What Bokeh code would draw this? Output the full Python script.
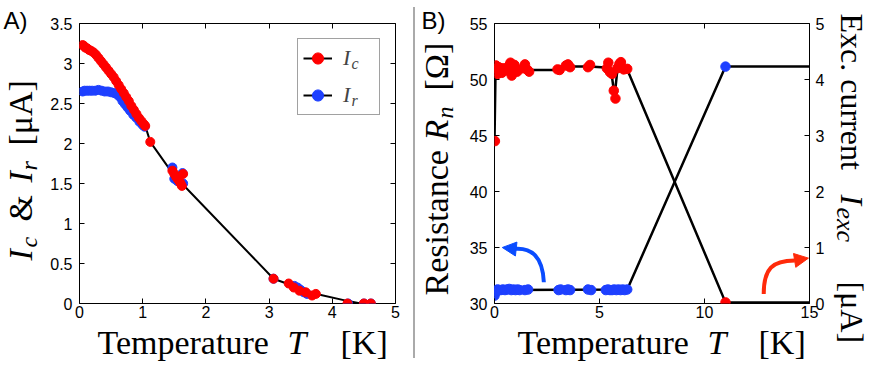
from math import pi
from bokeh.plotting import figure
from bokeh.models import (Range1d, LinearAxis, Label, Legend, LegendItem,
                          FixedTicker, Arrow, NormalHead, Div)
from bokeh.layouts import row, column
from bokeh.embed import file_html
from bokeh.resources import INLINE

RED = "#ff0000"
BLUE = "#1e40ff"
ARROW_BLUE = "#0a4cff"
ARROW_RED = "#ff2a0a"
SERIF = "Liberation Serif"
SANS = "Liberation Sans"

# ---------------- Panel A data ----------------
ic_T = [0.05, 0.07, 0.09, 0.12, 0.15, 0.18, 0.22, 0.26, 0.30, 0.34, 0.38, 0.42, 0.46, 0.50,
        0.54, 0.58, 0.62, 0.66, 0.70, 0.74, 0.78, 0.82, 0.86, 0.90, 0.94, 0.98, 1.02, 1.04,
        1.12, 1.47, 1.50, 1.53, 1.56, 1.58, 1.60, 1.62, 1.64,
        3.07, 3.31, 3.39, 3.48, 3.58, 3.68, 3.74, 4.24, 4.50, 4.61]
ic_I = [3.23, 3.22, 3.20, 3.19, 3.17, 3.16, 3.14, 3.11, 3.07, 3.03, 2.99, 2.95, 2.91, 2.87,
        2.83, 2.78, 2.73, 2.68, 2.63, 2.58, 2.53, 2.47, 2.42, 2.37, 2.32, 2.28, 2.24, 2.22,
        2.02, 1.66, 1.62, 1.58, 1.55, 1.53, 1.50, 1.47, 1.62,
        0.31, 0.25, 0.20, 0.16, 0.14, 0.10, 0.12, 0.0, 0.0, 0.0]
ir_T = [0.05, 0.08, 0.12, 0.16, 0.20, 0.25, 0.30, 0.35, 0.40, 0.45, 0.50, 0.55, 0.60, 0.64,
        0.68, 0.72, 0.76, 0.80, 0.85, 0.90, 0.95, 1.00, 1.03,
        1.47, 1.50, 1.55, 1.63, 1.64, 3.07, 3.40, 3.45, 3.50, 3.55, 3.60, 4.25, 4.50, 4.61]
ir_I = [2.65, 2.66, 2.66, 2.66, 2.66, 2.66, 2.67, 2.66, 2.65, 2.65, 2.64, 2.63, 2.61, 2.58,
        2.53, 2.49, 2.45, 2.41, 2.36, 2.32, 2.27, 2.23, 2.21,
        1.70, 1.56, 1.53, 1.63, 1.50, 0.31, 0.22, 0.20, 0.17, 0.14, 0.12, 0.0, 0.0, 0.0]
fitA_T = [0.05, 0.30, 0.50, 0.70, 0.86, 1.04, 1.12, 1.47, 1.62, 3.07, 3.31, 3.50, 3.75, 4.25, 4.45, 4.61]
fitA_I = [3.22, 3.07, 2.87, 2.63, 2.42, 2.22, 2.02, 1.63, 1.50, 0.31, 0.24, 0.17, 0.12, 0.03, 0.0, 0.0]

A_xticks = [0, 1, 2, 3, 4, 5]
A_xlabels = ["0", "1", "2", "3", "4", "5"]
A_yticks = [0, 0.5, 1, 1.5, 2, 2.5, 3, 3.5]
A_ylabels = ["0", "0.5", "1", "1.5", "2", "2.5", "3", "3.5"]

# ---------------- Panel B data ----------------
res_T = [0.0, 0.02, 0.05, 0.1, 0.15, 0.2, 0.3, 0.4, 0.5, 0.6, 0.7, 0.8, 0.9, 1.0, 1.1, 1.2, 1.45, 1.6,
         3.05, 3.15, 3.4, 3.5, 3.6, 4.45, 4.6,
         5.3, 5.4, 5.5, 5.6, 5.7, 5.8, 5.9, 6.0, 6.1, 6.2, 6.32, 11.0]
res_R = [30.7, 30.9, 31.1, 31.2, 31.25, 31.2, 31.2, 31.25, 31.2, 31.25, 31.3, 31.2, 31.25, 31.2, 31.25, 31.2, 31.2, 31.25,
         31.2, 31.25, 31.2, 31.25, 31.2, 31.25, 31.2,
         31.2, 31.25, 31.2, 31.2, 31.25, 31.2, 31.25, 31.2, 31.25, 31.2, 31.25, 51.15]
res_line_T = [0.0, 0.05, 6.32, 11.0, 15.0]
res_line_R = [30.7, 31.2, 31.25, 51.15, 51.15]

exc_T = [0.02, 0.04, 0.07, 0.1, 0.15, 0.2, 0.27, 0.35, 0.42,
         0.62, 0.7, 0.76, 0.82, 0.88, 0.95, 1.02, 1.08,
         1.35, 1.45, 1.55, 1.65, 3.0, 3.1, 3.4, 3.5, 3.6, 4.45, 4.55,
         5.35, 5.42, 5.5, 5.6, 5.68, 5.76, 5.85, 5.95, 6.02, 6.15, 6.32, 11.0]
exc_I = [2.90, 4.15, 4.25, 4.20, 4.10, 4.22, 4.15, 4.12, 4.20,
         4.16, 4.25, 4.30, 4.07, 4.20, 4.26, 4.18, 4.14,
         4.20, 4.27, 4.18, 4.14, 4.18, 4.17, 4.25, 4.27, 4.22, 4.22, 4.26,
         4.20, 4.30, 4.13, 4.10, 3.80, 3.66, 4.20, 4.28, 4.31, 4.18, 4.19, 0.02]
exc_line_T = [0.0, 0.05, 1.6, 3.0, 3.5, 4.5, 5.1, 5.55, 5.72, 5.85, 6.32, 11.0, 15.0]
exc_line_I = [2.90, 4.17, 4.17, 4.17, 4.23, 4.23, 4.22, 4.17, 3.70, 4.17, 4.18, 0.02, 0.02]

B_xticks = [0, 5, 10, 15]
B_xlabels = ["0", "5", "10", "15"]
B_yticks = [30, 35, 40, 45, 50, 55]
B_ylabels = ["30", "35", "40", "45", "50", "55"]
B_y2ticks = [0, 1, 2, 3, 4, 5]
B_y2labels = ["0", "1", "2", "3", "4", "5"]

# decorative arrows (data units)
blue_arrow = dict(x0=2.35, y0=31.9, cx0=2.29, cy0=34.3, cx1=1.71, cy1=35.0, x1=0.95, y1=34.88)
blue_head = (0.95, 34.88, 0.37, 35.0)
red_arrow = dict(x0=12.82, y0=0.17, cx0=12.82, cy0=0.63, cx1=13.24, cy1=0.77, x1=14.3, y1=0.77)
red_head = (14.3, 0.77, 14.95, 0.81)

PAGE_H = 366
TOP_H = 323        # height of the plotting canvases
BOT_H = PAGE_H - TOP_H
BASE_SHIFT = 0.34  # Bokeh draws "alphabetic" text this many em below the anchor


def style_axis(ax, ticks, labels, show=True):
    ax.ticker = FixedTicker(ticks=ticks)
    ax.major_label_overrides = {t: l for t, l in zip(ticks, labels)}
    ax.major_tick_in = 5
    ax.major_tick_out = 0
    ax.minor_tick_line_color = None
    ax.axis_line_color = None
    ax.major_tick_line_color = "black"
    ax.major_tick_line_width = 1
    ax.axis_label = None
    if show:
        ax.major_label_text_font = SANS
        ax.major_label_text_font_size = "16px"
        ax.major_label_text_color = "black"
    else:
        ax.major_label_text_font_size = "1px"
        ax.major_label_text_color = None
        ax.major_label_standoff = 0


def text_fig(w, h):
    f = figure(width=w, height=h, x_range=Range1d(0, w), y_range=Range1d(h, 0),
               output_backend="svg", toolbar_location=None,
               x_axis_location=None, y_axis_location=None, frame_align=False,
               min_border_left=0, min_border_right=0, min_border_top=0, min_border_bottom=0)
    f.grid.visible = False
    f.outline_line_color = None
    return f


def put(f, ox, oy, px, py, text, size, italic=False, angle=0.0, font=SERIF):
    """Place text whose baseline starts at page position (px, py), in a text canvas at (ox, oy)."""
    d = BASE_SHIFT * size
    if angle > 0:
        px -= d
    elif angle < 0:
        px += d
    else:
        py -= d
    f.add_layout(Label(x=px - ox, y=py - oy, text=text, angle=angle, text_font=font,
                       text_font_size=f"{size}px",
                       text_font_style="italic" if italic else "normal",
                       text_color="black", text_align="left",
                       text_baseline="alphabetic"))


# ================= Panel A (page x 43..413) =================
pA = figure(width=370, height=TOP_H, x_range=Range1d(0, 5), y_range=Range1d(0, 3.5),
            output_backend="svg", toolbar_location=None, frame_align=False,
            min_border_left=36, min_border_right=18, min_border_top=23,
            min_border_bottom=TOP_H - 303)
pA.grid.visible = False
pA.outline_line_color = "black"
pA.outline_line_width = 1
style_axis(pA.xaxis[0], A_xticks, A_xlabels)
style_axis(pA.yaxis[0], A_yticks, A_ylabels)
pA.xaxis[0].major_label_standoff = 2
pA.yaxis[0].major_label_standoff = 7
axA_top = LinearAxis()
style_axis(axA_top, A_xticks, A_xlabels, show=False)
pA.add_layout(axA_top, "above")
axA_right = LinearAxis()
style_axis(axA_right, A_yticks, A_ylabels, show=False)
pA.add_layout(axA_right, "right")

lineA = pA.line(fitA_T, fitA_I, line_color="black", line_width=2)
irA = pA.scatter(ir_T, ir_I, size=9, fill_color=BLUE, line_color=BLUE)
icA = pA.scatter(ic_T, ic_I, size=9, fill_color=RED, line_color=RED)

legA = Legend(items=[LegendItem(label="I", renderers=[lineA, icA]),
                     LegendItem(label="I", renderers=[lineA, irA])],
              location="top_right", margin=15, padding=5, spacing=9,
              glyph_width=29, glyph_height=28, label_height=28, label_width=31,
              label_standoff=11, label_text_font=SERIF, label_text_font_size="22px",
              label_text_font_style="italic", border_line_color="#444444",
              border_line_width=1, background_fill_alpha=0)
pA.add_layout(legA)
# legend subscripts (screen units relative to the frame: left 79, bottom 303)
for txt, py in (("c", 68), ("r", 105)):
    pA.add_layout(Label(x=351 - 79, y=303 - py + BASE_SHIFT * 16, x_units="screen", y_units="screen",
                        text=txt, text_font=SERIF, text_font_size="16px", level="overlay",
                        text_font_style="italic", text_baseline="alphabetic"))

LA = text_fig(43, PAGE_H)
put(LA, 0, 0, 3, 28, "A)", 24, font=SANS)
put(LA, 0, 0, 32, 260, "I", 34, italic=True, angle=pi / 2)
put(LA, 0, 0, 37, 247, "c", 24, italic=True, angle=pi / 2)
put(LA, 0, 0, 32, 221, "&", 34, angle=pi / 2)
put(LA, 0, 0, 32, 182, "I", 34, italic=True, angle=pi / 2)
put(LA, 0, 0, 37, 170, "r", 24, italic=True, angle=pi / 2)
put(LA, 0, 0, 32, 145, "[μA]", 34, angle=pi / 2)

XA = text_fig(370, BOT_H)
put(XA, 43, TOP_H, 97, 354, "Temperature", 34)
put(XA, 43, TOP_H, 287, 354, "T", 34, italic=True)
put(XA, 43, TOP_H, 340, 354, "[K]", 34)

# ================= Panel B (page x 460..830) =================
pB = figure(width=370, height=TOP_H, x_range=Range1d(0, 15), y_range=Range1d(30, 55),
            output_backend="svg", toolbar_location=None, frame_align=False,
            min_border_left=34, min_border_right=21, min_border_top=23,
            min_border_bottom=TOP_H - 303)
pB.extra_y_ranges = {"exc": Range1d(0, 5)}
pB.grid.visible = False
pB.outline_line_color = "black"
pB.outline_line_width = 1
style_axis(pB.xaxis[0], B_xticks, B_xlabels)
style_axis(pB.yaxis[0], B_yticks, B_ylabels)
pB.xaxis[0].major_label_standoff = 2
pB.yaxis[0].major_label_standoff = 7
axB_right = LinearAxis(y_range_name="exc")
style_axis(axB_right, B_y2ticks, B_y2labels)
axB_right.major_label_standoff = 6
pB.add_layout(axB_right, "right")
axB_top = LinearAxis()
style_axis(axB_top, B_xticks, B_xlabels, show=False)
pB.add_layout(axB_top, "above")

pB.line(res_line_T, res_line_R, line_color="black", line_width=2.5)
pB.line(exc_line_T, exc_line_I, line_color="black", line_width=2.5, y_range_name="exc")
pB.scatter(res_T, res_R, size=9.5, fill_color=BLUE, line_color=BLUE)
pB.scatter(exc_T, exc_I, size=9.5, fill_color=RED, line_color=RED, y_range_name="exc")

pB.bezier(line_color=ARROW_BLUE, line_width=4, **blue_arrow)
pB.add_layout(Arrow(x_start=blue_head[0], y_start=blue_head[1], x_end=blue_head[2], y_end=blue_head[3],
                    line_color=ARROW_BLUE, line_width=4,
                    end=NormalHead(size=14, fill_color=ARROW_BLUE, line_color=ARROW_BLUE)))
pB.bezier(line_color=ARROW_RED, line_width=4, y_range_name="exc", **red_arrow)
pB.add_layout(Arrow(x_start=red_head[0], y_start=red_head[1], x_end=red_head[2], y_end=red_head[3],
                    y_range_name="exc", line_color=ARROW_RED, line_width=4,
                    end=NormalHead(size=14, fill_color=ARROW_RED, line_color=ARROW_RED)))

LB = text_fig(45, PAGE_H)
put(LB, 415, 0, 421, 28, "B)", 24, font=SANS)
put(LB, 415, 0, 448, 295, "Resistance", 34, angle=pi / 2)
put(LB, 415, 0, 448, 140, "R", 34, italic=True, angle=pi / 2)
put(LB, 415, 0, 453, 118, "n", 24, italic=True, angle=pi / 2)
put(LB, 415, 0, 448, 90, "[Ω]", 34, angle=pi / 2)

RB = text_fig(42, PAGE_H)
put(RB, 830, 0, 841, 13, "Exc. current", 32, angle=-pi / 2)
put(RB, 830, 0, 841, 194, "I", 32, italic=True, angle=-pi / 2)
put(RB, 830, 0, 836, 207, "exc", 26, italic=True, angle=-pi / 2)
put(RB, 830, 0, 841, 281, "[μA]", 32, angle=-pi / 2)

XB = text_fig(370, BOT_H)
put(XB, 460, TOP_H, 517, 354, "Temperature", 34)
put(XB, 460, TOP_H, 707, 354, "T", 34, italic=True)
put(XB, 460, TOP_H, 758, 354, "[K]", 34)

sep = Div(text="", width=2, height=351, margin=(7, 0, 8, 0),
          styles={"background-color": "#aaaaaa"})

layout = row(LA, column(pA, XA, spacing=0), sep, LB, column(pB, XB, spacing=0), RB, spacing=0)
open("out.html", "w").write(file_html(layout, INLINE))
